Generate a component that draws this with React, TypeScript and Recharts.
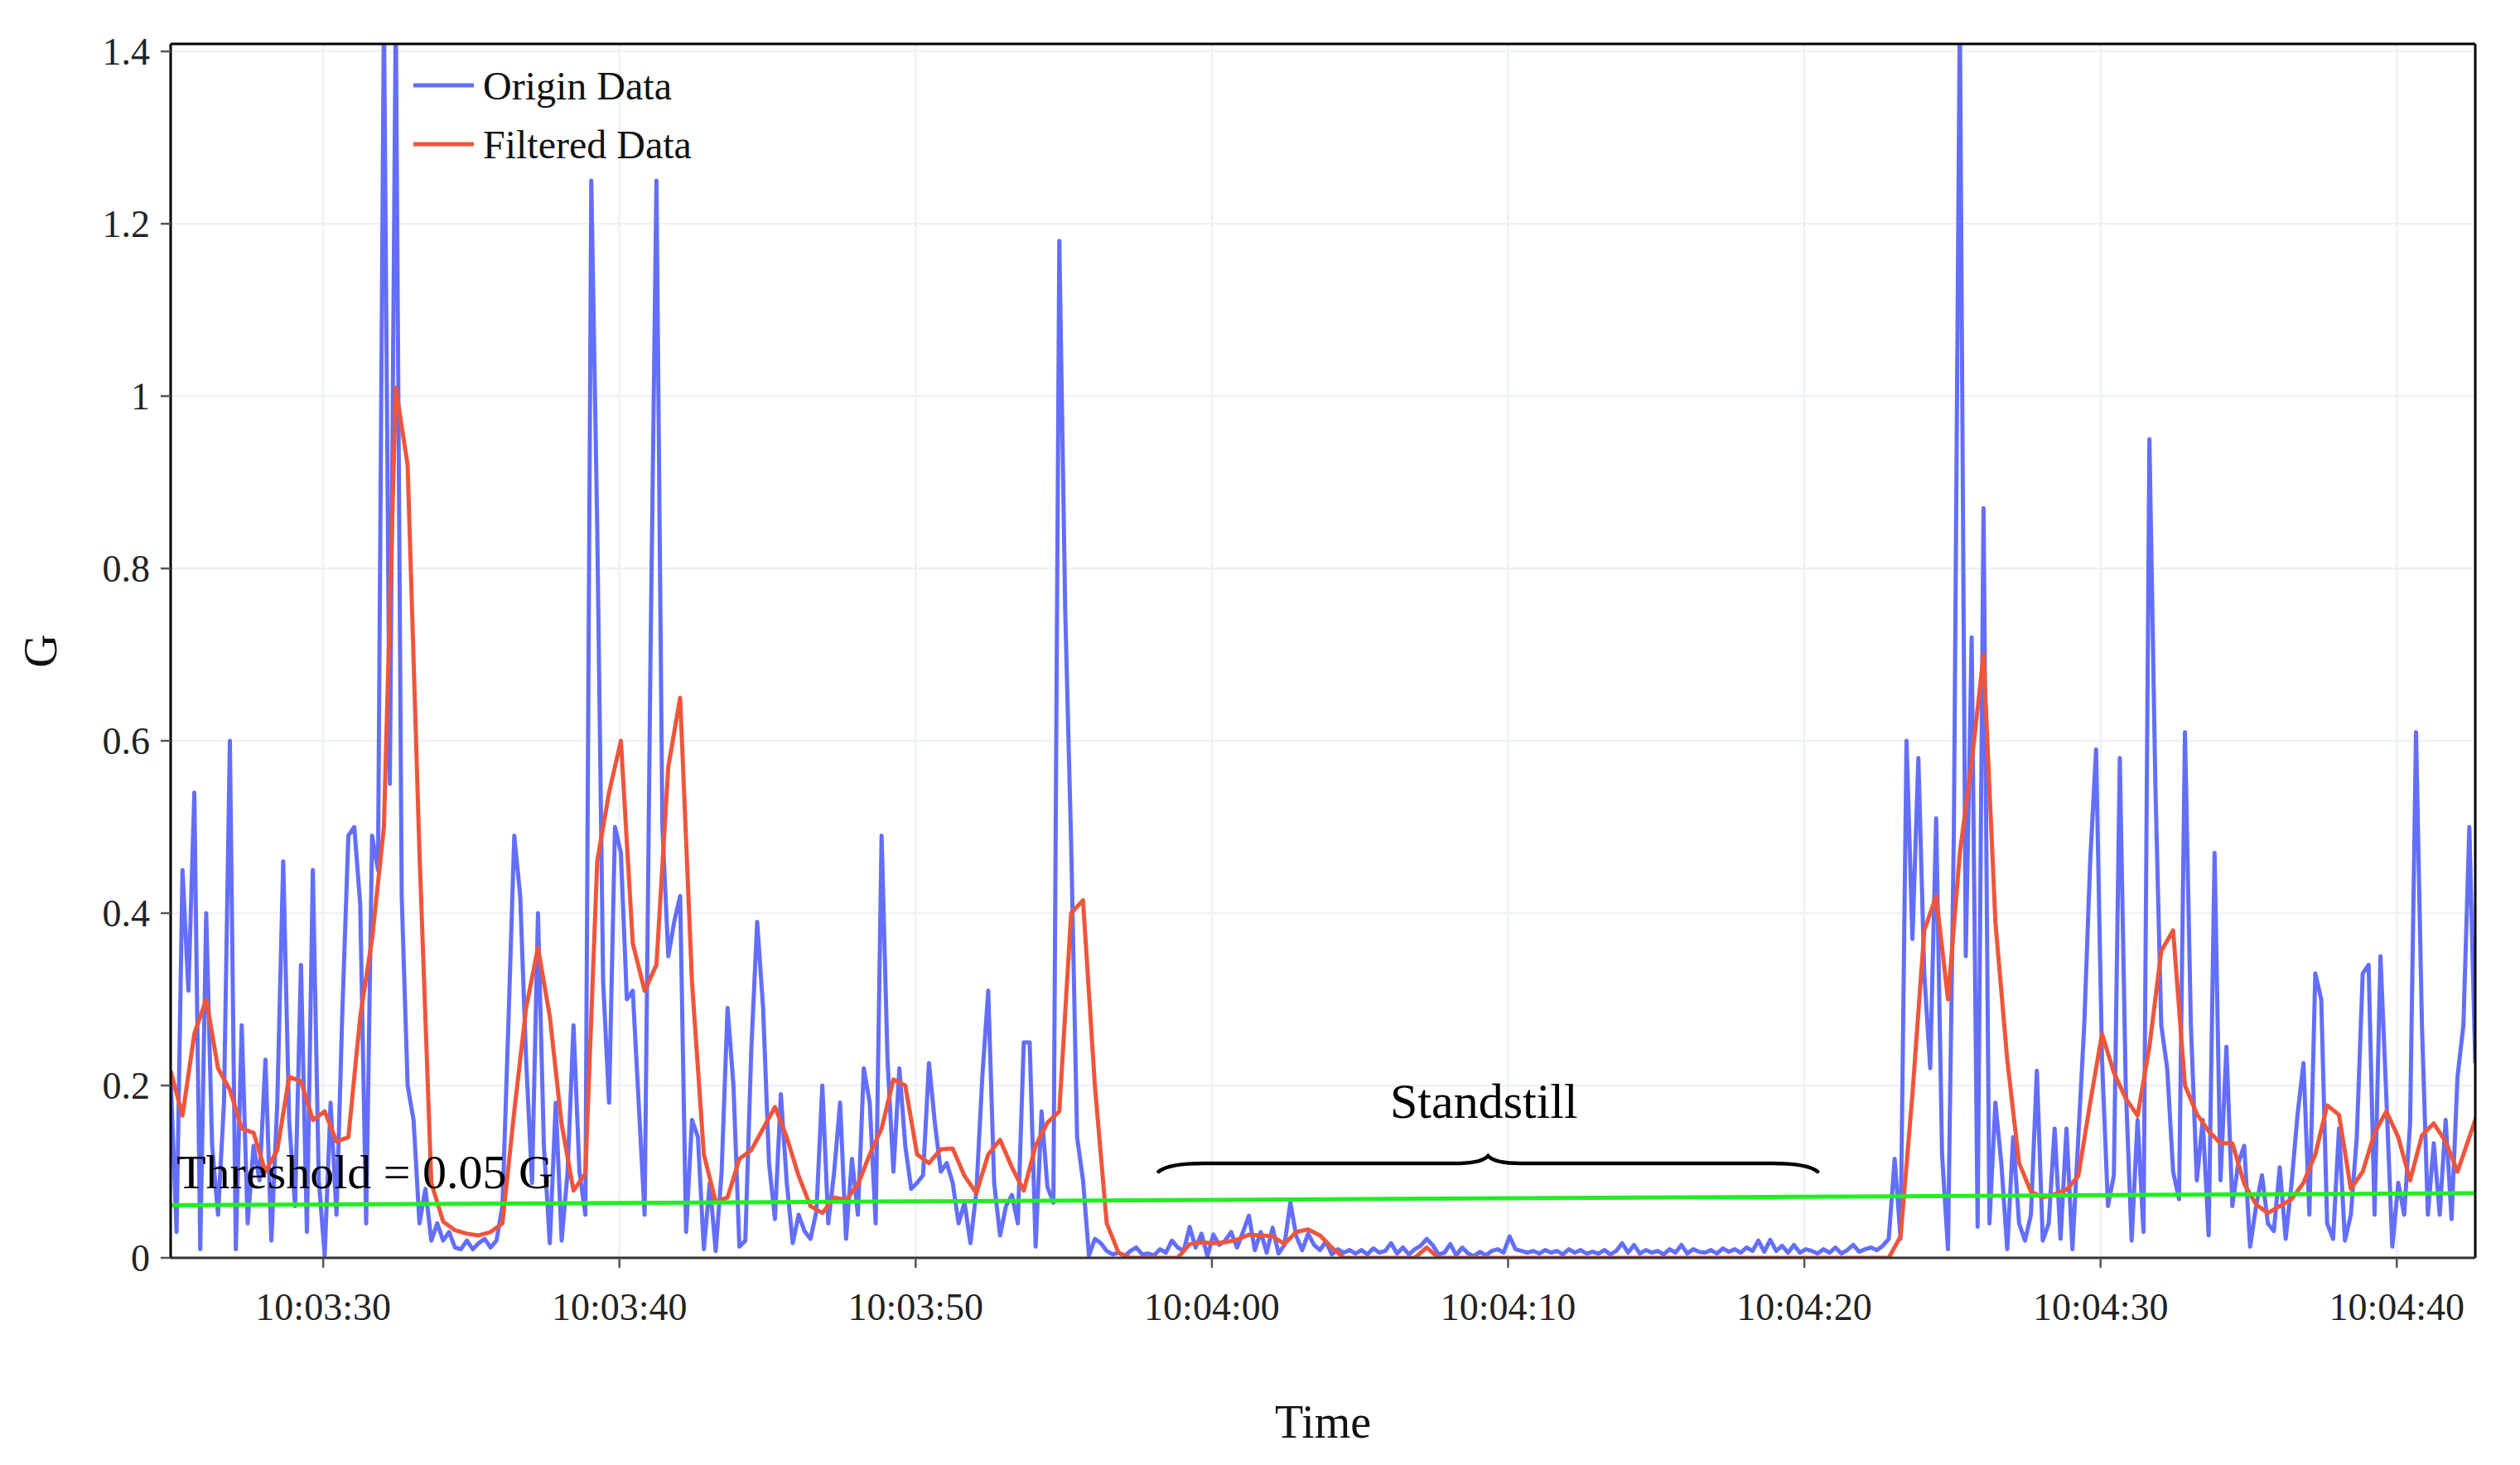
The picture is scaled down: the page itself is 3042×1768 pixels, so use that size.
import React from "react";
import {
  LineChart,
  Line,
  XAxis,
  YAxis,
  CartesianGrid,
  ReferenceLine,
  ReferenceDot,
  Legend,
} from "recharts";

const FONT = "'Liberation Serif', 'Times New Roman', serif";

// time axis: seconds after 10:03:00
const T0 = 24.85;
const T_END = 102.65;
const G_MAX = 1.4087;
const ORIGIN_STEP = 0.2;
const FILTERED_STEP = 0.4;

const xTicks = [30, 40, 50, 60, 70, 80, 90, 100];
const yTicks = [0, 0.2, 0.4, 0.6, 0.8, 1, 1.2, 1.4];

// raw acceleration, one row per second (5 samples)
const originG = [
  0.21, 0.03, 0.45, 0.31, 0.54,
  0.01, 0.4, 0.13, 0.05, 0.18,
  0.6, 0.01, 0.27, 0.04, 0.13,
  0.09, 0.23, 0.02, 0.18, 0.46,
  0.16, 0.06, 0.34, 0.03, 0.45,
  0.09, 0.003, 0.18, 0.05, 0.29,
  0.49, 0.5, 0.41, 0.04, 0.49,
  0.45, 1.45, 0.55, 1.45, 0.42,
  0.2, 0.16, 0.04, 0.08, 0.02,
  0.04, 0.02, 0.03, 0.012, 0.01,
  0.02, 0.01, 0.017, 0.022, 0.012,
  0.02, 0.06, 0.27, 0.49, 0.42,
  0.23, 0.087, 0.4, 0.13, 0.017,
  0.18, 0.02, 0.1, 0.27, 0.1,
  0.05, 1.25, 0.85, 0.32, 0.18,
  0.5, 0.47, 0.3, 0.31, 0.18,
  0.05, 0.7, 1.25, 0.5, 0.35,
  0.39, 0.42, 0.03, 0.16, 0.14,
  0.01, 0.087, 0.008, 0.1, 0.29,
  0.2, 0.013, 0.02, 0.24, 0.39,
  0.29, 0.11, 0.045, 0.19, 0.087,
  0.017, 0.05, 0.031, 0.022, 0.054,
  0.2, 0.04, 0.1, 0.18, 0.022,
  0.115, 0.05, 0.22, 0.18, 0.04,
  0.49, 0.23, 0.1, 0.22, 0.13,
  0.08, 0.087, 0.096, 0.226, 0.156,
  0.1, 0.11, 0.087, 0.04, 0.064,
  0.017, 0.077, 0.21, 0.31, 0.087,
  0.026, 0.06, 0.073, 0.04, 0.25,
  0.25, 0.013, 0.17, 0.082, 0.064,
  1.18, 0.75, 0.48, 0.14, 0.09,
  0.003, 0.022, 0.017, 0.008, 0.004,
  0.006, 0.002, 0.008, 0.012, 0.004,
  0.005, 0.003, 0.01, 0.006, 0.02,
  0.012, 0.008, 0.036, 0.012, 0.028,
  0.002, 0.027, 0.015, 0.02, 0.03,
  0.012, 0.03, 0.049, 0.009, 0.03,
  0.006, 0.035, 0.005, 0.015, 0.064,
  0.025, 0.009, 0.028, 0.015, 0.009,
  0.019, 0.004, 0.01, 0.006, 0.009,
  0.005, 0.009, 0.004, 0.011, 0.006,
  0.008, 0.017, 0.005, 0.012, 0.004,
  0.01, 0.014, 0.022, 0.015, 0.004,
  0.006, 0.016, 0.003, 0.012, 0.005,
  0.002, 0.007, 0.003, 0.008, 0.01,
  0.006, 0.025, 0.01, 0.008, 0.006,
  0.008, 0.005, 0.009, 0.006, 0.008,
  0.004, 0.01, 0.006, 0.009, 0.005,
  0.007, 0.005, 0.009, 0.004, 0.008,
  0.017, 0.006, 0.015, 0.005, 0.009,
  0.006, 0.008, 0.004, 0.01, 0.006,
  0.015, 0.005, 0.01, 0.007, 0.006,
  0.009, 0.005, 0.011, 0.007, 0.01,
  0.006, 0.012, 0.008, 0.02, 0.007,
  0.021, 0.008, 0.014, 0.006, 0.015,
  0.006, 0.01, 0.008, 0.005, 0.01,
  0.006, 0.012, 0.005, 0.009, 0.015,
  0.007, 0.01, 0.012, 0.009, 0.014,
  0.022, 0.115, 0.022, 0.6, 0.37,
  0.58, 0.33, 0.22, 0.51, 0.12,
  0.01, 0.5, 1.45, 0.35, 0.72,
  0.036, 0.87, 0.04, 0.18, 0.11,
  0.01, 0.14, 0.04, 0.02, 0.05,
  0.217, 0.02, 0.04, 0.15, 0.022,
  0.15, 0.01, 0.14, 0.27, 0.46,
  0.59, 0.23, 0.06, 0.096, 0.58,
  0.2, 0.02, 0.16, 0.03, 0.95,
  0.55, 0.27, 0.22, 0.1, 0.068,
  0.61, 0.27, 0.09, 0.16, 0.026,
  0.47, 0.09, 0.245, 0.06, 0.11,
  0.13, 0.013, 0.06, 0.096, 0.04,
  0.031, 0.105, 0.022, 0.087, 0.166,
  0.226, 0.05, 0.33, 0.3, 0.04,
  0.022, 0.15, 0.02, 0.05, 0.14,
  0.33, 0.34, 0.05, 0.35, 0.185,
  0.013, 0.087, 0.05, 0.156, 0.61,
  0.27, 0.05, 0.133, 0.05, 0.16,
  0.045, 0.21, 0.27, 0.5, 0.226,
];

// filtered acceleration, 10 samples per row
const filteredG = [
  0.217, 0.165, 0.26, 0.3, 0.22, 0.195, 0.15, 0.145, 0.1, 0.125,
  0.21, 0.205, 0.16, 0.17, 0.135, 0.14, 0.28, 0.37, 0.5, 1.01,
  0.92, 0.47, 0.087, 0.042, 0.032, 0.028, 0.026, 0.03, 0.04, 0.17,
  0.29, 0.36, 0.28, 0.155, 0.078, 0.098, 0.46, 0.54, 0.6, 0.365,
  0.31, 0.34, 0.57, 0.65, 0.32, 0.12, 0.065, 0.07, 0.115, 0.125,
  0.15, 0.175, 0.14, 0.095, 0.06, 0.052, 0.07, 0.067, 0.085, 0.12,
  0.15, 0.207, 0.2, 0.12, 0.11, 0.126, 0.127, 0.095, 0.075, 0.12,
  0.137, 0.105, 0.078, 0.13, 0.157, 0.17, 0.4, 0.415, 0.2, 0.04,
  0.006, 0, 0, 0, 0, 0, 0.016, 0.018, 0.017, 0.018,
  0.021, 0.027, 0.026, 0.025, 0.016, 0.03, 0.033, 0.026, 0.012, 0,
  0, 0, 0, 0, 0, 0, 0.012, 0, 0, 0,
  0, 0, 0, 0, 0, 0, 0, 0, 0, 0,
  0, 0, 0, 0, 0, 0, 0, 0, 0, 0,
  0, 0, 0, 0, 0, 0, 0, 0, 0, 0,
  0, 0, 0, 0, 0, 0, 0.025, 0.19, 0.38, 0.42,
  0.3, 0.47, 0.575, 0.7, 0.39, 0.23, 0.11, 0.077, 0.07, 0.074,
  0.079, 0.095, 0.18, 0.26, 0.215, 0.185, 0.165, 0.245, 0.356, 0.38,
  0.2, 0.167, 0.147, 0.133, 0.133, 0.086, 0.062, 0.052, 0.06, 0.068,
  0.087, 0.12, 0.177, 0.166, 0.08, 0.1, 0.145, 0.17, 0.14, 0.09,
  0.142, 0.156, 0.135, 0.1, 0.14, 0.18,
];

// threshold line value at the left and right edge
const thresholdG = [0.061, 0.075];
const thresholdText = "Threshold = 0.05 G";
const thresholdAt = { t: 25.05, g: 0.081 };

const standstill = { from: 58.2, to: 80.45, g: 0.1097, text: "Standstill" };

const originData = originG.map((v, i) => ({ t: +(T0 + i * ORIGIN_STEP).toFixed(2), v }));
const filteredData = filteredG.map((v, i) => ({ t: +(T0 + i * FILTERED_STEP).toFixed(2), v }));
const thresholdData = [
  { t: T0, v: thresholdG[0] },
  { t: T_END, v: thresholdG[1] },
];

const pad = (n: number) => String(n).padStart(2, "0");
const fmtTime = (t: number) => {
  const m = 3 + Math.floor(t / 60);
  const s = Math.round(t % 60);
  return `10:${pad(m)}:${pad(s)}`;
};
const fmtG = (v: number) => String(Number(v.toFixed(1)));

const XTick = (props: any) => {
  const { x, y, payload } = props;
  return (
    <text x={x} y={y} dy={63} textAnchor="middle" fontSize={46} fill="#222" fontFamily={FONT}>
      {fmtTime(payload.value)}
    </text>
  );
};

const YTick = (props: any) => {
  const { x, y, payload } = props;
  return (
    <text x={x} y={y} dy={16} textAnchor="end" fontSize={46} fill="#222" fontFamily={FONT}>
      {fmtG(payload.value)}
    </text>
  );
};

const Brace = (props: any) => {
  const { x1, x2, y1 } = props;
  const y = y1;
  const xm = (x1 + x2) / 2;
  const d = `M ${x1} ${y + 10} Q ${x1 + 12} ${y} ${x1 + 55} ${y} L ${xm - 40} ${y} Q ${xm - 8} ${y} ${xm} ${y - 9} Q ${xm + 8} ${y} ${xm + 40} ${y} L ${x2 - 55} ${y} Q ${x2 - 12} ${y} ${x2} ${y + 10}`;
  return (
    <g>
      <path d={d} fill="none" stroke="#000" strokeWidth={4.5} strokeLinecap="round" />
      <text x={xm - 5} y={y - 55} textAnchor="middle" fontSize={60} fill="#000" fontFamily={FONT}>
        {standstill.text}
      </text>
    </g>
  );
};

const LegendBox = () => (
  <svg width={440} height={170}>
    <line x1={0} x2={73} y1={50} y2={50} stroke="#636efa" strokeWidth={5} />
    <text x={84} y={67} fontSize={48} fill="#111" fontFamily={FONT}>
      Origin Data
    </text>
    <line x1={0} x2={73} y1={121} y2={121} stroke="#ef553b" strokeWidth={5} />
    <text x={84} y={138} fontSize={48} fill="#111" fontFamily={FONT}>
      Filtered Data
    </text>
  </svg>
);

export default function App() {
  return (
    <div style={{ position: "absolute", left: 0, top: 0, width: 3042, height: 1768, background: "#fff" }}>
      <LineChart width={3042} height={1768} margin={{ top: 53, right: 54, bottom: 50, left: 46 }}>
        <CartesianGrid stroke="#edf1f8" strokeWidth={2.5} />
        <XAxis
          type="number"
          dataKey="t"
          domain={[T0, T_END]}
          allowDataOverflow
          ticks={xTicks}
          height={200}
          tickSize={12}
          tickMargin={0}
          tick={<XTick />}
          tickLine={{ stroke: "#555", strokeWidth: 2.5 }}
          axisLine={{ stroke: "#333", strokeWidth: 3 }}
          label={(p: any) => (
            <text
              x={p.viewBox.x + p.viewBox.width / 2}
              y={p.viewBox.y + 217}
              textAnchor="middle"
              fontSize={56}
              fill="#111"
              fontFamily={FONT}
            >
              Time
            </text>
          )}
        />
        <YAxis
          type="number"
          domain={[0, G_MAX]}
          allowDataOverflow
          ticks={yTicks}
          width={160}
          tickSize={12}
          tickMargin={13}
          tick={<YTick />}
          tickLine={{ stroke: "#555", strokeWidth: 2.5 }}
          axisLine={{ stroke: "#000", strokeWidth: 3 }}
          label={(p: any) => {
            const cx = p.viewBox.x + 22;
            const cy = p.viewBox.y + p.viewBox.height / 2;
            return (
              <text
                x={cx}
                y={cy}
                transform={`rotate(-90 ${cx} ${cy})`}
                textAnchor="middle"
                fontSize={56}
                fill="#111"
                fontFamily={FONT}
              >
                G
              </text>
            );
          }}
        />
        <Legend
          layout="vertical"
          verticalAlign="middle"
          align="center"
          wrapperStyle={{ left: 499, top: 53, width: 440, height: 170 }}
          content={() => <LegendBox />}
        />
        <Line
          data={originData}
          dataKey="v"
          type="linear"
          stroke="#636efa"
          strokeWidth={5}
          strokeLinejoin="round"
          dot={false}
          isAnimationActive={false}
        />
        <Line
          data={filteredData}
          dataKey="v"
          type="linear"
          stroke="#ef553b"
          strokeWidth={5}
          strokeLinejoin="round"
          dot={false}
          isAnimationActive={false}
        />
        <Line
          data={thresholdData}
          dataKey="v"
          type="linear"
          stroke="#22ee22"
          strokeWidth={5}
          dot={false}
          isAnimationActive={false}
        />
        {/* plot frame: top and right edges */}
        <ReferenceLine y={G_MAX} stroke="#000" strokeWidth={3} />
        <ReferenceLine x={T_END} stroke="#000" strokeWidth={3} />
        <ReferenceDot
          x={thresholdAt.t}
          y={thresholdAt.g}
          r={0}
          fill="none"
          stroke="none"
          label={(p: any) => (
            <text x={p.viewBox.x} y={p.viewBox.y} fontSize={58} fill="#000" fontFamily={FONT}>
              {thresholdText}
            </text>
          )}
        />
        <ReferenceLine
          segment={[
            { x: standstill.from, y: standstill.g },
            { x: standstill.to, y: standstill.g },
          ]}
          shape={(p: any) => <Brace {...p} />}
        />
      </LineChart>
    </div>
  );
}
